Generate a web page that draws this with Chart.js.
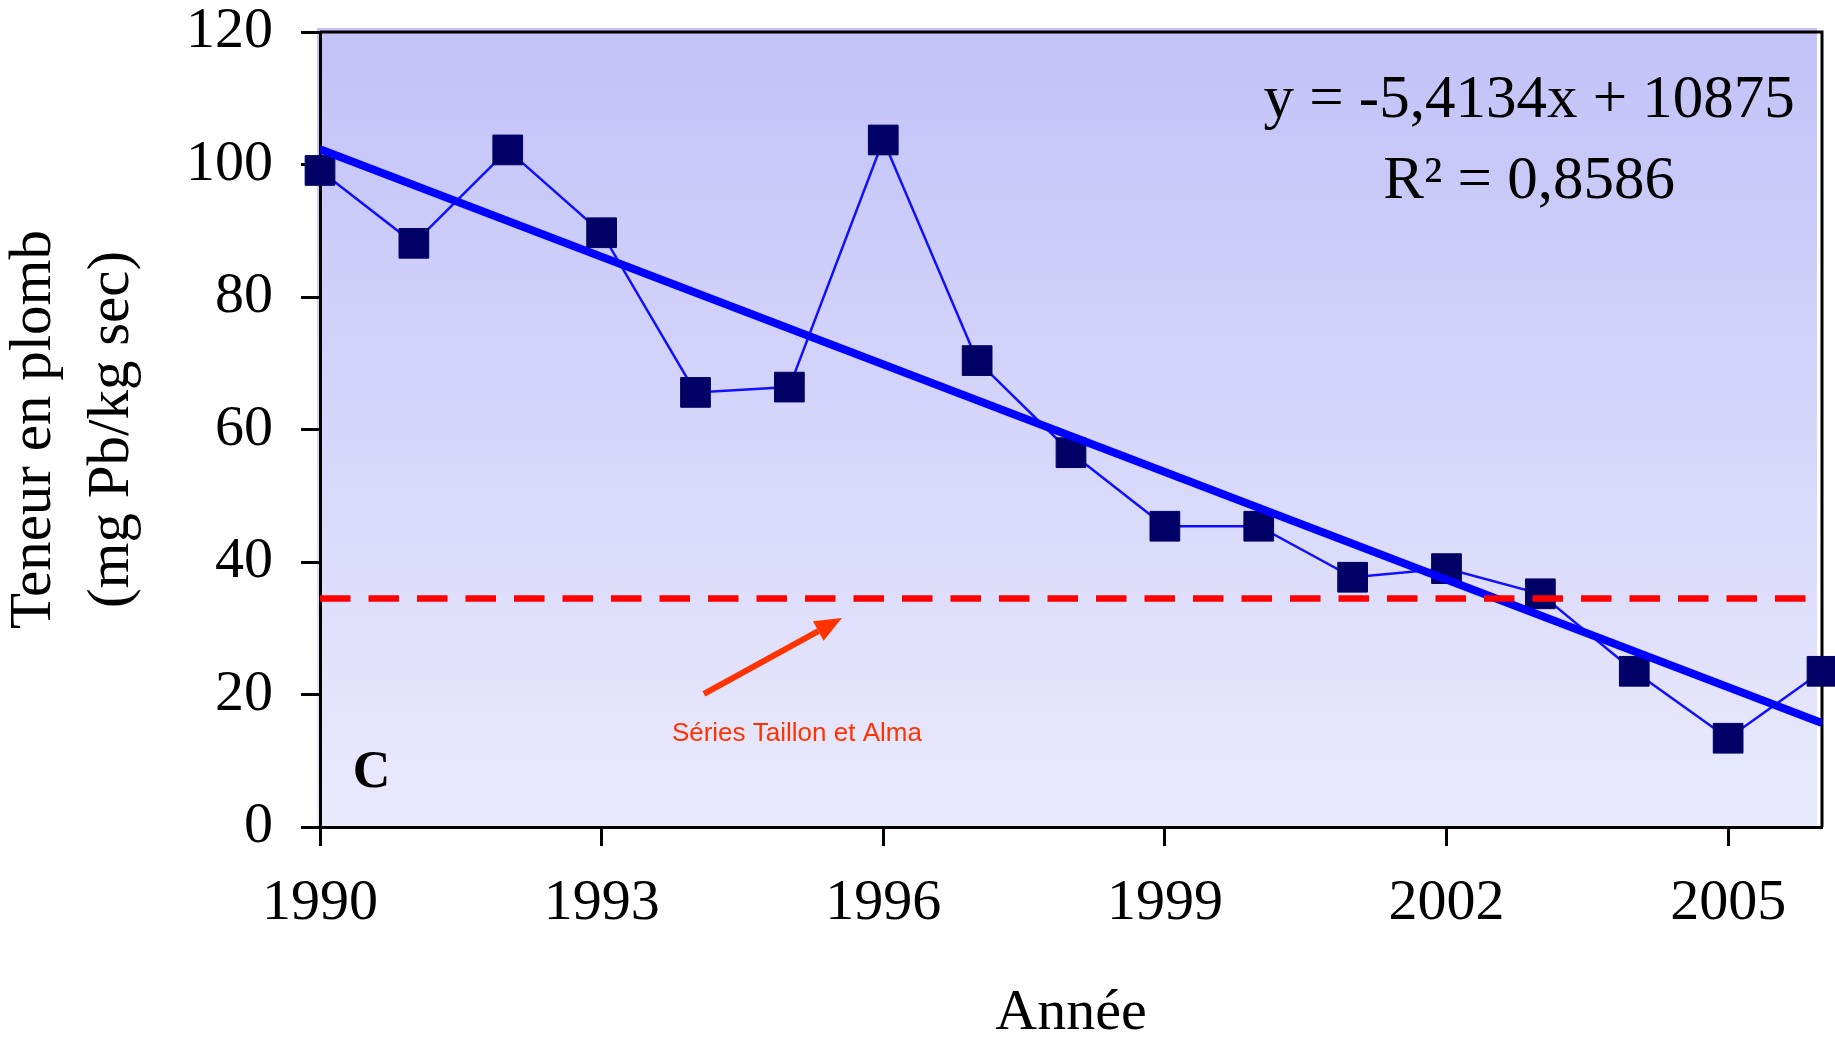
<!DOCTYPE html>
<html>
<head>
<meta charset="utf-8">
<script src="https://cdn.jsdelivr.net/npm/chart.js@4.4.0/dist/chart.umd.min.js"></script>
<style>
html,body{margin:0;padding:0;background:#fff;}
</style>
</head>
<body>
<canvas id="chart" width="1835" height="1038"></canvas>
<script>
// donnees
var years=[1990,1991,1992,1993,1994,1995,1996,1997,1998,1999,2000,2001,2002,2003,2004,2005,2006];
var lead=[99.1,88.1,102.2,89.7,65.6,66.4,103.7,70.4,56.5,45.4,45.4,37.7,39.0,35.2,23.5,13.4,23.5];
var trendYears=[1990,2006];
var trendValues=[102.3,15.7];
var seuil=34.5;
var xTicks=[1990,1993,1996,1999,2002,2005];
var equation=["y = -5,4134x + 10875","R\u00b2 = 0,8586"];
var panelLabel="C";
var seriesNote="S\u00e9ries Taillon et Alma";

var serif="'Liberation Serif', 'Times New Roman', serif";
var sans="'Liberation Sans', Arial, sans-serif";

function pts(xs,ys)
{
  var out=[];
  for(var i=0;i<xs.length;i++){ out.push({x:xs[i],y:ys[i]}); }
  return out;
}

// fond degrade + cadre haut/droit + annotations
var decor={
  id:'decor',
  beforeDraw:function(chart){
    var a=chart.chartArea, ctx=chart.ctx;
    var g=ctx.createLinearGradient(0,a.top,0,a.bottom);
    g.addColorStop(0,'#c2c2f8');
    g.addColorStop(1,'#eaeafd');
    ctx.save();
    ctx.fillStyle=g;
    ctx.fillRect(a.left-3,a.top-4,a.right-a.left-2,a.bottom-a.top+4);
    ctx.restore();
  },
  beforeDatasetsDraw:function(chart){
    var a=chart.chartArea, ctx=chart.ctx;
    ctx.save();
    ctx.strokeStyle='#000';
    ctx.lineWidth=3;
    ctx.beginPath();
    ctx.moveTo(a.left,a.top);
    ctx.lineTo(a.right,a.top);
    ctx.lineTo(a.right,a.bottom);
    ctx.stroke();
    ctx.restore();
  },
  afterDatasetsDraw:function(chart){
    var ctx=chart.ctx, sx=chart.scales.x, sy=chart.scales.y;
    function px(v){ return sx.getPixelForValue(v); }
    function py(v){ return sy.getPixelForValue(v); }
    ctx.save();
    // equation de la tendance
    ctx.fillStyle='#000';
    ctx.font='61px '+serif;
    ctx.textAlign='center';
    ctx.textBaseline='middle';
    ctx.fillText(equation[0],px(2002.88),py(109.6));
    ctx.fillText(equation[1],px(2002.88),py(97.4));
    // lettre du panneau
    ctx.font='bold 52px '+serif;
    ctx.fillText(panelLabel,px(1990.55),py(8.0));
    // fleche rouge
    var x0=px(1994.09), y0=py(20.08), x1=px(1995.56), y1=py(31.55);
    var ang=Math.atan2(y1-y0,x1-x0);
    var hl=27, hw=11;
    var bx=x1-hl*Math.cos(ang), by=y1-hl*Math.sin(ang);
    ctx.strokeStyle='#ff3300';
    ctx.fillStyle='#ff3300';
    ctx.lineWidth=6;
    ctx.beginPath();
    ctx.moveTo(x0,y0);
    ctx.lineTo(bx,by);
    ctx.stroke();
    ctx.beginPath();
    ctx.moveTo(x1,y1);
    ctx.lineTo(bx+hw*Math.sin(ang),by-hw*Math.cos(ang));
    ctx.lineTo(bx-hw*Math.sin(ang),by+hw*Math.cos(ang));
    ctx.closePath();
    ctx.fill();
    ctx.font='26px '+sans;
    ctx.fillText(seriesNote,px(1995.08),py(14.04));
    ctx.restore();
  }
};

var axisGrid={drawOnChartArea:false,drawTicks:true,tickLength:19,tickWidth:3,tickColor:'#000',color:'#000'};

function noPad(s)
{
  s.paddingTop=0; s.paddingBottom=0; s.paddingLeft=0; s.paddingRight=0;
}

new Chart(document.getElementById('chart'),{
  type:'line',
  data:{
    datasets:[
      {
        label:'seuil',
        data:pts(trendYears,[seuil,seuil]),
        borderColor:'#ff0000',
        borderWidth:6.5,
        borderDash:[30.5,18],
        pointRadius:0,
        fill:false,
        order:1
      },
      {
        label:'tendance',
        data:pts(trendYears,trendValues),
        borderColor:'#0000ff',
        borderWidth:8,
        pointRadius:0,
        fill:false,
        order:2
      },
      {
        label:'plomb',
        data:pts(years,lead),
        borderColor:'#1010ff',
        borderWidth:2.5,
        pointStyle:'rect',
        pointRadius:21,
        pointBorderWidth:1,
        pointBackgroundColor:'#000066',
        pointBorderColor:'#000066',
        tension:0,
        fill:false,
        clip:false,
        order:3
      }
    ]
  },
  options:{
    responsive:false,
    animation:false,
    events:[],
    layout:{autoPadding:false,padding:{top:32,right:13,left:0,bottom:0}},
    plugins:{legend:{display:false},tooltip:{enabled:false}},
    scales:{
      x:{
        type:'linear',
        min:1990,
        max:2006,
        afterBuildTicks:function(s){ s.ticks=xTicks.map(function(v){return {value:v};}); },
        afterFit:function(s){ s.height=211; noPad(s); },
        grid:axisGrid,
        border:{display:true,color:'#000',width:3},
        ticks:{
          color:'#000',
          padding:29,
          maxRotation:0,
          autoSkip:false,
          font:{family:serif,size:58,lineHeight:1},
          callback:function(v){ return String(v); }
        },
        title:{
          display:true,
          text:'Ann\u00e9e',
          color:'#000',
          padding:{top:0,bottom:1},
          font:{family:serif,size:58,lineHeight:0.8}
        }
      },
      y:{
        min:0,
        max:120,
        afterFit:function(s){ s.width=320; noPad(s); },
        grid:axisGrid,
        border:{display:true,color:'#000',width:3},
        ticks:{
          stepSize:20,
          color:'#000',
          padding:28,
          font:{family:serif,size:58,lineHeight:1}
        },
        title:{
          display:true,
          text:['Teneur en plomb','(mg Pb/kg sec)'],
          color:'#000',
          padding:{top:-4,bottom:0},
          font:{family:serif,size:59,lineHeight:1.32}
        }
      }
    }
  },
  plugins:[decor]
});
</script>
</body>
</html>
